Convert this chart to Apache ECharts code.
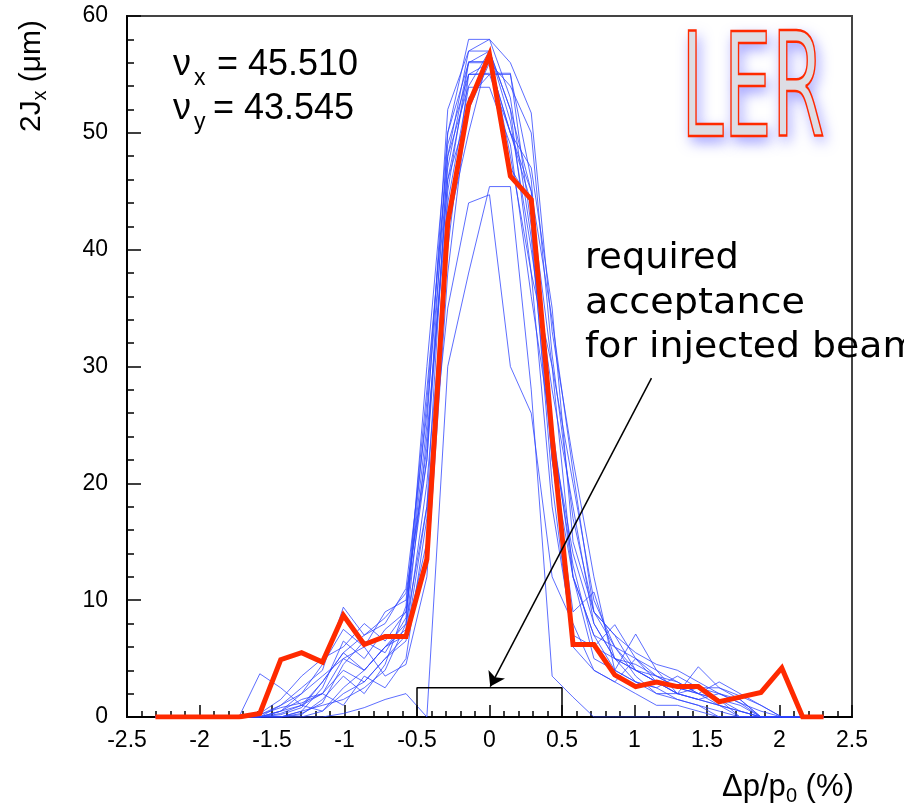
<!DOCTYPE html>
<html><head><meta charset="utf-8">
<script src="https://cdn.jsdelivr.net/npm/echarts@6/dist/echarts.min.js"></script>
<style>html,body{margin:0;padding:0;background:#fff}#c{width:904px;height:806px}</style>
</head><body><div id="c"></div>
<script>
// momentum deviation grid (%)
const xGrid = [-2.304,-2.16,-2.016,-1.872,-1.728,-1.584,-1.44,-1.296,-1.152,-1.008,-0.864,-0.72,-0.576,-0.432,-0.288,-0.144,0,0.144,0.288,0.432,0.576,0.72,0.864,1.008,1.152,1.296,1.44,1.584,1.728,1.872,2.016,2.16,2.304];
// thick red curve
const redVals = [0,0,0,0, 0,0.3,4.9,5.5,4.7,8.7,6.2,6.9,6.9, 13.5,42.3,52.4,56.7,46.3,44.3,24,6.2, 6.2,3.6,2.6,3.0,2.6,2.6,1.3,1.7, 2.1,4.2,0,0];
// thin blue curves (seeds)
const blue1  = [0,0,0,0, 0,0.2,1.0,2.5,4.0,9.4,7.0,8.5,10.6, 22,50,58,58,53,41,22,9, 10.7,5,4,3,2,1.5,1,0, 0,0,0,0];
const blue2  = [0,0,0,0, 0,0,0.5,1.5,2.0,5.0,4.0,6.0,8.0, 18,48,57,57,52,38,18,7, 6,7.9,5,3.5,2.5,2,3,2, 1,0,0,0];
const blue3  = [0,0,0,0, 0,3.7,2.5,1.0,3.0,5.5,4.0,6.0,7.0, 15,45,56,56,50,44,25,12, 5,4,7.1,4,2,1.5,1,0.5, 0,0,0,0];
const blue4  = [0,0,0,0, 0,0,0,0.5,2.5,6.5,5.0,7.5,9.0, 25,52,57,58,56,51.7,33,22, 12,4,3,2.5,3.5,2.5,2,1.5, 0,0,0,0];
const blue5  = [0,0,0,0, 0,0,0.3,1.0,0.5,2.0,3.0,5.0,7.0, 20,40,55,55,55,46,24,14, 8,5,3,2,2,4.3,2.5,1.5, 0,0,0,0];
const blue6  = [0,0,0,0, 0,0,0,0.2,1.5,3.5,2.0,4.5,9.5, 28,48,54,57,48,38,30,12, 7,4,3,2.5,1.5,1.0,0.5,0, 0,0,0,0];
const blue7  = [0,0,0,0, 0,0,0.5,2.0,4.5,7.5,6.0,3.5,4.5, 12,38,53,55,50,47,35,15, 9,6,4,3,2,2.5,2.5,1.8, 1.0,0,0,0];
const blue8  = [0,0,0,0, 0,0,0,0,0,0.3,0.8,1.5,2.0, 0,30,38,45.4,45.4,28,3.5,1.7, 0,0,0,0,0,0,0,0, 0,0,0,0];
const blue9  = [0,0,0,0, 0,0,0.5,1.0,2.0,4.0,3.0,5.0,6.5, 18,35,44,44.7,30,26,12,8, 4,3,2,1,1,0.5,0,0, 0,0,0,0];
const blue10 = [0,0,0,0, 0,0.3,1.5,3.5,5.0,6.0,8.0,6.5,9.0, 22,46,55,55.1,55.1,42,20,6, 4,3,5,3,2,1.5,2,1.2, 0.5,0,0,0];
const blue11 = [0,0,0,0, 0,0,0,0.5,1.0,1.5,2.5,4.0,8.0, 30,50,56,57,51,40,28,18, 8,5,4,3,2.5,2.0,1.5,1.0, 0,0,0,0];
const blue12 = [0,0,0,0, 0,0,0.2,0.8,3.0,5.5,7.0,8.0,11, 26,47,56.1,56.1,47,44,30,20, 10,6,3.5,2,1.5,1,0,0, 0,0,0,0];
const blue13 = [0,0,0,0, 0,0,0,0,0.5,2.5,4.0,6.0,7.5, 24,44,53.9,53.9,49,36,24,13, 6,5,4.5,3.5,3,2,1,0.5, 0,0,0,0];
const blue14 = [0,0,0,0, 0,0.2,0.8,1.2,2.0,1.0,3.5,2.5,5.0, 17,42,50,57,52,45,22,12, 7,6,5,4,3,2,1.5,0, 0,0,0,0];
const blue15 = [0,0,0,0, 0,0,0,0.3,1.2,4.5,6.5,5.5,8.5, 27,49,55,56,54,50,31,17, 9,7,4,3.5,2.5,2.5,1.5,0.5, 0,0,0,0];
const blue16 = [0,0,0,0, 0,0,1.0,2.0,3.5,5.0,6.0,9.0,10.0, 23,46,52,56,50,45,34,21, 9,7,5.5,4.5,4,3,2,1.2, 0,0,0,0];
const blueSets = [blue1,blue2,blue3,blue4,blue5,blue6,blue7,blue8,blue9,blue10,blue11,blue12,blue13,blue14,blue15,blue16];
// required acceptance box and arrow (data coords)
const accBoxX = [-0.5,-0.5,0.5,0.5];
const accBoxY = [0,2.5,2.5,0];
const arrowFrom = [1.117, 29.0];
const arrowTo = [0.005, 2.6];
// texts
const tuneX = '= 45.510';
const tuneY = '= 43.545';
const noteLines = ['required','acceptance','for injected beam'];
const ringLabel = 'LER';

const pair = (xs, ys) => xs.map((x, i) => [x, ys[i]]);
const series = [];
blueSets.forEach((b, i) => {
  series.push({type:'line', name:'b'+i, data:pair(xGrid,b), showSymbol:false, silent:true, z:2,
    lineStyle:{color:'#2f45ff', width:1, opacity:0.78}});
});
series.push({type:'line', name:'red', data:pair(xGrid,redVals), showSymbol:false, silent:true, z:3,
  lineStyle:{color:'#ff2a00', width:5, join:'miter'}});
series.push({type:'line', name:'box', data:pair(accBoxX,accBoxY), showSymbol:false, silent:true, z:4,
  lineStyle:{color:'#000', width:1.5},
  markLine:{silent:true, symbol:['none','arrow'], symbolSize:14, animation:false,
    label:{show:false}, lineStyle:{color:'#000', width:1.5, type:'solid'},
    data:[[{coord:arrowFrom},{coord:arrowTo}]]}});

const FS = 'Liberation Sans';
const logoStyle = {text:ringLabel, font:'144px "DejaVu Sans"', verticalAlign:'middle'};
const chart = echarts.init(document.getElementById('c'));
chart.setOption({
  animation:false,
  backgroundColor:'#fff',
  textStyle:{fontFamily:FS},
  grid:{left:127, right:52, top:16, bottom:89, show:true, borderColor:'#444', borderWidth:2, backgroundColor:'transparent'},
  xAxis:{type:'value', min:-2.5, max:2.5, interval:0.5,
    axisLine:{onZero:false, lineStyle:{color:'#000', width:2}},
    axisTick:{inside:true, length:12, lineStyle:{color:'#000', width:1.5}},
    minorTick:{show:true, splitNumber:5, length:6, lineStyle:{color:'#000', width:1.5}},
    splitLine:{show:false}, minorSplitLine:{show:false},
    axisLabel:{color:'#000', fontSize:23, fontFamily:FS, margin:12}},
  yAxis:{type:'value', min:0, max:60, interval:10,
    axisLine:{onZero:false, lineStyle:{color:'#000', width:2}},
    axisTick:{inside:true, length:14, lineStyle:{color:'#000', width:1.5}},
    minorTick:{show:true, splitNumber:5, length:7, lineStyle:{color:'#000', width:1.5}},
    splitLine:{show:false}, minorSplitLine:{show:false},
    axisLabel:{color:'#000', fontSize:23, fontFamily:FS, margin:19}},
  series:series,
  graphic:[
    // y axis name (rotated)
    {type:'group', x:42, y:132, rotation:Math.PI/2, children:[
      {type:'text', x:0, y:-10, style:{text:'2J', font:'30px "Liberation Sans"', fill:'#000', verticalAlign:'middle', align:'left'}},
      {type:'text', x:31.5, y:-2, style:{text:'x', font:'20px "Liberation Sans"', fill:'#000', verticalAlign:'middle', align:'left'}},
      {type:'text', x:41.5, y:-10, style:{text:' (μm)', font:'30px "Liberation Sans"', fill:'#000', verticalAlign:'middle', align:'left'}}
    ]},
    // x axis name
    {type:'text', x:722, y:787, style:{text:'Δp/p', font:'31px "Liberation Sans"', fill:'#000', verticalAlign:'middle'}},
    {type:'text', x:786, y:796, style:{text:'0', font:'20px "Liberation Sans"', fill:'#000', verticalAlign:'middle'}},
    {type:'text', x:797, y:787, style:{text:' (%)', font:'31px "Liberation Sans"', fill:'#000', verticalAlign:'middle'}},
    // tunes
    {type:'text', x:173, y:65.5, style:{text:'ν', font:'36px "Liberation Sans"', fill:'#000', verticalAlign:'middle'}},
    {type:'text', x:194, y:79, style:{text:'x', font:'23px "Liberation Sans"', fill:'#000', verticalAlign:'middle'}},
    {type:'text', x:217, y:65.5, style:{text:tuneX, font:'36px "Liberation Sans"', fill:'#000', verticalAlign:'middle'}},
    {type:'text', x:173, y:109.5, style:{text:'ν', font:'36px "Liberation Sans"', fill:'#000', verticalAlign:'middle'}},
    {type:'text', x:194, y:123, style:{text:'y', font:'23px "Liberation Sans"', fill:'#000', verticalAlign:'middle'}},
    {type:'text', x:213, y:109.5, style:{text:tuneY, font:'36px "Liberation Sans"', fill:'#000', verticalAlign:'middle'}},
    // annotation
    {type:'text', x:585, y:259, scaleX:1.02, style:{text:noteLines[0], font:'36px "DejaVu Sans"', fill:'#000', verticalAlign:'middle'}},
    {type:'text', x:585, y:304, scaleX:1.06, style:{text:noteLines[1], font:'36px "DejaVu Sans"', fill:'#000', verticalAlign:'middle'}},
    {type:'text', x:585, y:347.5, scaleX:1.05, style:{text:noteLines[2], font:'36px "DejaVu Sans"', fill:'#000', verticalAlign:'middle'}},
    // LER logo: filled body with glow, then outline on top
    {type:'text', x:681, y:99, scaleX:0.53, z:10, style:Object.assign({}, logoStyle, {
      fill:'#dddde4', textShadowColor:'rgba(80,80,255,0.6)', textShadowBlur:14, textShadowOffsetX:3, textShadowOffsetY:6})},
    {type:'text', x:681, y:99, scaleX:0.53, z:11, style:Object.assign({}, logoStyle, {
      fill:'none', stroke:'#ff2a00', lineWidth:2.5, strokeNoScale:true})}
  ]
});
</script></body></html>
